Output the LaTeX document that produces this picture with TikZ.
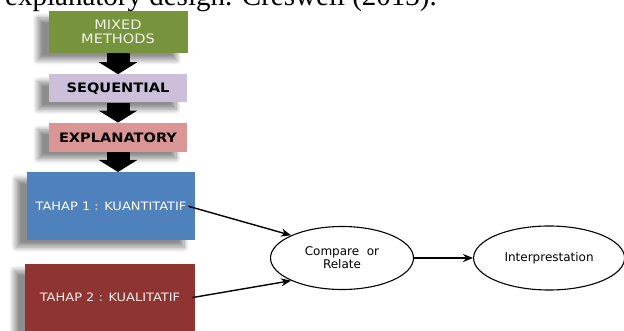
\documentclass[tikz,border=0pt]{standalone}
\usepackage{fontspec}
\setmainfont{Liberation Serif}
\newfontfamily\boxfont[FakeStretch=1.12]{DejaVu Sans}
\newfontfamily\ovalfont{DejaVu Sans}
\usepackage{tikz}
\usetikzlibrary{arrows.meta}
\usetikzlibrary{positioning}
\usetikzlibrary{shadows.blur}
\usetikzlibrary{shapes.geometric}

\definecolor{mixgreen}{HTML}{77933C}
\definecolor{seqpurple}{HTML}{CBBFDA}
\definecolor{explpink}{HTML}{D99694}
\definecolor{quanblue}{HTML}{4F81BD}
\definecolor{qualred}{HTML}{8F3431}

\begin{document}
\begin{tikzpicture}[x=1pt,y=1pt,
  stage box/.style={rectangle,inner sep=0pt,align=center,
    blur shadow={shadow xshift=-11pt,shadow yshift=-7pt,shadow blur radius=5pt,
      shadow blur steps=10,shadow opacity=45}},
  fat arrow/.style={line width=23pt,-{Triangle[width=38pt,length=12pt]}},
  thin arrow/.style={line width=1.4pt,-{Stealth[length=10pt,width=8pt]}},
  oval node/.style={ellipse,draw,line width=1.1pt,inner sep=0pt,align=center,
    font=\ovalfont\fontsize{12}{13}\selectfont}]

  \useasboundingbox (0,0) rectangle (624,-331);
  \clip (0,0) rectangle (624,-331);

  \node[anchor=base west,inner sep=0pt,font=\fontsize{29}{32}\selectfont] (cap) at (5,-6)
    {explanatory design. Creswell (2013).};

  \node[stage box,fill=mixgreen,text=white!90!mixgreen,minimum width=139pt,minimum height=42pt,
    font=\boxfont\fontsize{13}{13.5}\selectfont] (mm) at (118,-32) {MIXED\\METHODS};
  \node[stage box,fill=seqpurple,minimum width=138pt,minimum height=28pt,
    font=\boxfont\bfseries\fontsize{13}{13}\selectfont] (seq) [below=21pt of mm] {SEQUENTIAL};
  \node[stage box,fill=explpink,minimum width=138pt,minimum height=29pt,
    font=\boxfont\bfseries\fontsize{13}{13}\selectfont] (expl) [below=20pt of seq] {EXPLANATORY};
  \node[stage box,fill=quanblue,text=white,minimum width=168pt,minimum height=68pt,
    font=\boxfont\fontsize{11.6}{12}\selectfont] (t1) [below=20pt of expl,xshift=-7pt] {TAHAP 1 : KUANTITATIF};
  \node[stage box,fill=qualred,text=white!92!qualred,minimum width=170pt,minimum height=68pt,
    font=\boxfont\fontsize{11.6}{12}\selectfont] (t2) [below=23pt of t1,xshift=-1pt] {TAHAP 2 : KUALITATIF};

  \node[oval node,minimum width=143pt,minimum height=63pt] (cmp) at (342,-258) {Compare~~or\\Relate};
  \node[oval node,minimum width=151pt,minimum height=64pt] (intp) [right=59pt of cmp] {Interprestation};

  \path[fat arrow]
    (mm.south) edge (seq.north)
    (seq.south) edge (expl.north)
    (expl.south) edge (expl.south |- t1.north);

  \path[thin arrow]
    ([xshift=-7pt]t1.east) edge (cmp.156)
    ([xshift=-3pt]t2.east) edge (cmp.204)
    (cmp) edge (intp);
\end{tikzpicture}
\end{document}
